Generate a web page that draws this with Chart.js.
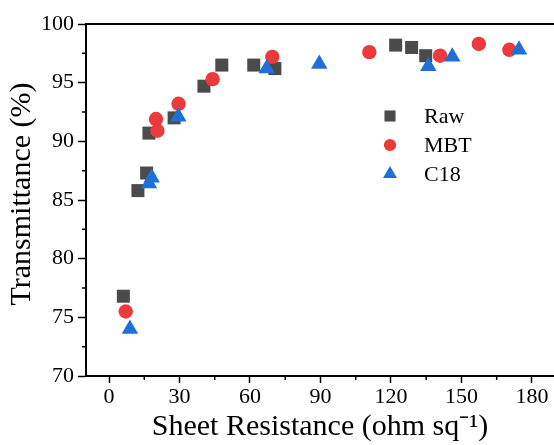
<!DOCTYPE html>
<html>
<head>
<meta charset="utf-8">
<script src="https://cdn.jsdelivr.net/npm/chart.js@4.4.1/dist/chart.umd.min.js"></script>
<style>
  html, body { margin: 0; padding: 0; background: #fff; overflow: hidden; }
  #wrap { width: 554px; height: 445px; position: relative; }
  canvas { display: block; }
</style>
</head>
<body>
<div id="wrap"><canvas id="ScatterChart"></canvas></div>
<script>
// data
const seriesNames = ['Raw', 'MBT', 'C18'];

const rawX = [6.1, 12.3, 16.0, 17.0, 27.7, 40.4, 48.0, 61.6, 70.6, 122.0, 128.8, 134.8];
const rawY = [76.8, 85.8, 87.3, 90.7, 92.0, 94.7, 96.5, 96.5, 96.2, 98.2, 98.0, 97.3];

const mbtX = [7.1, 20.0, 20.6, 29.6, 44.1, 69.5, 110.8, 140.9, 157.4, 170.4];
const mbtY = [75.5, 91.9, 90.9, 93.2, 95.3, 97.2, 97.6, 97.3, 98.3, 97.8];

const c18X = [8.9, 17.0, 18.2, 29.5, 67.1, 89.5, 135.9, 146.1, 174.5];
const c18Y = [74.0, 86.4, 86.9, 92.1, 96.2, 96.6, 96.4, 97.2, 97.8];

const xTicks = [0, 30, 60, 90, 120, 150, 180];
const xMinor = [15, 45, 75, 105, 135, 165];
const yMinor = [72.5, 77.5, 82.5, 87.5, 92.5, 97.5];

const toPoints = (xs, ys) => xs.map((x, i) => ({ x: x, y: ys[i] }));

const serif = '"Liberation Serif", "Times New Roman", serif';

//setup block
const data = {
    datasets: [
        {
            label: seriesNames[0],
            data: toPoints(rawX, rawY),
            pointStyle: 'rect',
            pointRadius: 9.2,
            backgroundColor: '#4b4b4b',
            borderWidth: 0,
            order: 3
        },
        {
            label: seriesNames[1],
            data: toPoints(mbtX, mbtY),
            pointStyle: 'circle',
            pointRadius: 7.2,
            backgroundColor: '#eb3a3c',
            borderWidth: 0,
            order: 2
        },
        {
            label: seriesNames[2],
            data: toPoints(c18X, c18Y),
            pointStyle: 'triangle',
            pointRadius: 9.5,
            backgroundColor: '#1f6fd8',
            borderWidth: 0,
            order: 1
        }
    ]
};

// frame, minor ticks, y title and legend
const extras = {
    id: 'extras',
    afterDraw(chart) {
        const ctx = chart.ctx;
        const area = chart.chartArea;
        const xs = chart.scales.x;
        const ys = chart.scales.y;
        ctx.save();
        ctx.strokeStyle = '#000';
        ctx.lineWidth = 2;
        ctx.beginPath();
        ctx.moveTo(area.left - 1, area.top);
        ctx.lineTo(area.right, area.top);
        ctx.stroke();

        ctx.lineWidth = 1.5;
        ctx.beginPath();
        xMinor.forEach(v => {
            const px = xs.getPixelForValue(v);
            ctx.moveTo(px, area.bottom);
            ctx.lineTo(px, area.bottom + 4);
        });
        yMinor.forEach(v => {
            const py = ys.getPixelForValue(v);
            ctx.moveTo(area.left, py);
            ctx.lineTo(area.left - 4, py);
        });
        ctx.stroke();

        // y axis title
        ctx.fillStyle = '#000';
        ctx.font = '30px ' + serif;
        ctx.textAlign = 'center';
        ctx.textBaseline = 'middle';
        ctx.translate(22, 194);
        ctx.rotate(-Math.PI / 2);
        ctx.fillText('Transmittance (%)', 0, 0);
        ctx.restore();

        // legend
        ctx.save();
        ctx.font = '22px ' + serif;
        ctx.textAlign = 'left';
        ctx.textBaseline = 'middle';
        chart.data.datasets.forEach((ds, i) => {
            const lx = 390;
            const ly = 116 + i * 29;
            ctx.fillStyle = ds.backgroundColor;
            ctx.strokeStyle = ds.backgroundColor;
            ctx.lineWidth = 0;
            Chart.helpers.drawPoint(ctx, { pointStyle: ds.pointStyle, radius: ds.pointRadius * 0.85, rotation: 0, borderWidth: 0 }, lx, ly);
            ctx.fillStyle = '#000';
            ctx.fillText(ds.label, 424, ly + 1);
        });
        ctx.restore();
    }
};

// config block
const config = {
    type: 'scatter',
    data,
    options: {
        responsive: true,
        maintainAspectRatio: false,
        animation: false,
        layout: { autoPadding: false, padding: { top: 24, right: 0, left: 0, bottom: 0 } },
        scales: {
            x: {
                type: 'linear',
                min: -9.8,
                max: 189.4,
                afterBuildTicks: scale => {
                    scale.ticks = xTicks.map(v => ({ value: v }));
                },
                afterFit: scale => {
                    scale.height = 69;
                    scale.paddingLeft = 0;
                    scale.paddingRight = 0;
                },
                ticks: {
                    color: '#000',
                    font: { family: serif, size: 22 },
                    padding: 1,
                    maxRotation: 0
                },
                grid: {
                    drawOnChartArea: false,
                    tickLength: 7,
                    tickWidth: 1.5,
                    tickColor: '#000'
                },
                border: { display: true, color: '#000', width: 2 },
                title: {
                    display: true,
                    text: 'Sheet Resistance (ohm sq\u207B\u00B9)',
                    color: '#000',
                    font: { family: serif, size: 30 },
                    padding: { top: 0, bottom: 0 }
                }
            },
            y: {
                min: 70,
                max: 100,
                afterFit: scale => {
                    scale.width = 86;
                    scale.paddingTop = 0;
                    scale.paddingBottom = 0;
                },
                ticks: {
                    stepSize: 5,
                    color: '#000',
                    font: { family: serif, size: 22 },
                    padding: 4
                },
                grid: {
                    drawOnChartArea: false,
                    tickLength: 8,
                    tickWidth: 1.5,
                    tickColor: '#000'
                },
                border: { display: true, color: '#000', width: 2 }
            }
        },
        plugins: {
            legend: { display: false },
            tooltip: { enabled: false }
        }
    },
    plugins: [extras]
};

// render init block
const scatterChart = new Chart(document.getElementById('ScatterChart'), config);
</script>
</body>
</html>
